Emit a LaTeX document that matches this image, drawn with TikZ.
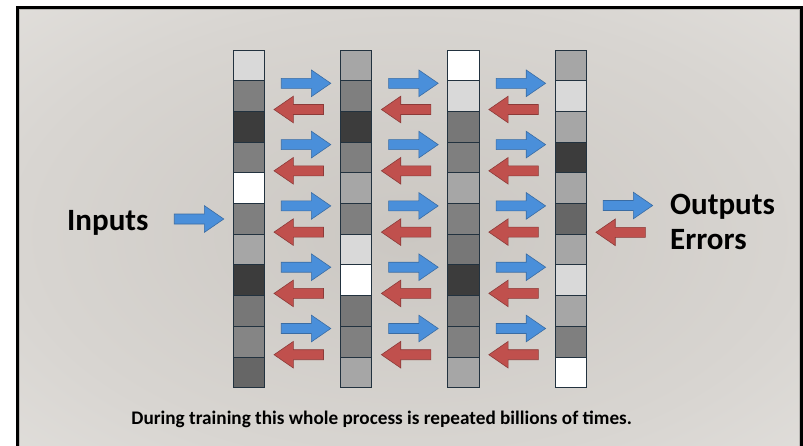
\documentclass[tikz,border=0pt]{standalone}
\usepackage{fontspec}
\setmainfont{Carlito}
\usetikzlibrary{shapes.arrows}

\definecolor{fwdblue}{HTML}{4A8FDA}
\definecolor{fwdline}{HTML}{3A6CA3}
\definecolor{bwdred}{HTML}{C0504D}
\definecolor{bwdline}{HTML}{8C3A38}
\definecolor{cellline}{HTML}{22323F}
\definecolor{bgin}{HTML}{CBC7C2}
\definecolor{bgmid}{HTML}{D8D5D1}
\definecolor{bgout}{HTML}{EBE9E6}
\pgfdeclareradialshading{slide}{\pgfpoint{0bp}{0bp}}{color(0bp)=(bgin); color(25bp)=(bgmid); color(50bp)=(bgout)}

\begin{document}
\begin{tikzpicture}[x=1pt,y=-1pt,
    cell/.style={draw=cellline, line width=0.9pt, minimum width=31.3pt, minimum height=30.7pt, inner sep=0pt, outer sep=0pt},
    blockarrow/.style={single arrow, minimum height=49.5pt, inner xsep=0pt, inner ysep=4.7pt,
      single arrow head extend=8.3pt, single arrow tip angle=69, line width=0.6pt},
    fwd/.style={blockarrow, fill=fwdblue, draw=fwdline},
    bwd/.style={blockarrow, fill=bwdred, draw=bwdline, shape border rotate=180},
    bigtext/.style={font=\bfseries\fontsize{31}{31}\selectfont, inner sep=0pt, anchor=base west},
    smalltext/.style={font=\bfseries\fontsize{19.2}{20}\selectfont, inner sep=0pt, anchor=base}]
  \useasboundingbox (0,0) rectangle (803,445);
  \clip (0,0) rectangle (803,445);

  % slide background and frame
  \shade[shading=slide] (17.5,7.5) rectangle (801.5,460);
  \draw[color={rgb,255:red,185;green,183;blue,180}, line width=0.8pt] (19.6,9.6) rectangle (799.4,460);
  \draw[line width=3pt] (17.5,7.5) rectangle (801.5,460);

  % the four layers, top to bottom
  \foreach \vals [count=\i] in {{217,127,60,127,255,127,166,60,119,133,102},
                               {166,127,60,127,166,127,217,255,119,128,166},
                               {255,217,119,127,166,128,119,60,119,128,166},
                               {166,217,166,60,166,102,166,217,166,127,255}} {
    \foreach \v [count=\j] in \vals {
      \node[cell, fill={rgb,255:red,\v;green,\v;blue,\v}] (c\i-\j) at ({248.7+107.4*(\i-1)}, {50+30.7*(\j-0.5)}) {};
    }
  }

  % forward and backward passes between layers
  \foreach \g in {1,2,3} {
    \foreach \k in {0,...,4} {
      \node[fwd] (f\g-\k) at ({302.4+107.4*(\g-1)}, {83.3+61.3*\k}) {};
      \node[bwd] (b\g-\k) at ({302.4+107.4*(\g-1)}, {109.5+61.3*\k}) {};
    }
  }

  % inputs and outputs
  \node[bigtext] (inputs) at (67,230) {Inputs};
  \node[fwd] (inarrow) at (195.4,219) {};
  \node[fwd] (outarrow) at (624.3,205.5) {};
  \node[bwd] (errarrow) at (624.3,232.3) {};
  \node[bigtext] (outputs) at (670,214.3) {Outputs};
  \node[bigtext] (errors) at (670,249) {Errors};

  \node[smalltext] (note) at (381.7,424.3) {During training this whole process is repeated billions of times.};
\end{tikzpicture}
\end{document}
